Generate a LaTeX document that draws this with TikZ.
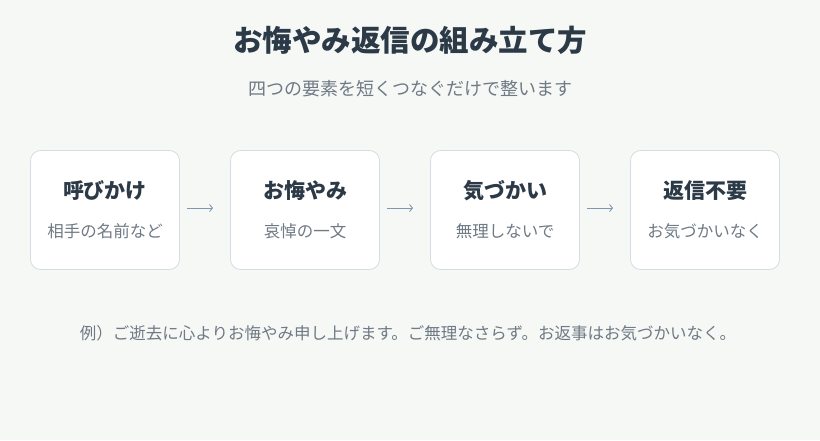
\documentclass[tikz,border=0pt]{standalone}
\usepackage{fontspec}
\setmainfont{Noto Sans CJK JP}
\usetikzlibrary{arrows.meta,positioning}
\definecolor{bgc}{HTML}{F6F8F6}
\definecolor{ink}{HTML}{2C3A47}
\definecolor{muted}{HTML}{6F7A85}
\definecolor{edge}{HTML}{D6DCE0}
\definecolor{arr}{HTML}{7F98AE}
\tikzset{
  card/.style={draw=edge,line width=0.8pt,fill=white,rounded corners=10pt,minimum width=149pt,minimum height=119pt},
  head/.style={text=ink,font=\fontsize{21}{25}\selectfont\bfseries},
  sub/.style={text=muted,font=\fontsize{16.5}{20}\selectfont},
  flow/.style={draw=arr,line width=0.9pt,-{Straight Barb[length=3pt,width=7pt]},shorten <=7pt,shorten >=17pt}
}
\begin{document}
\begin{tikzpicture}[x=1pt,y=-1pt]
  \fill[bgc] (0,0) rectangle (820,440);
  \useasboundingbox (0,0) rectangle (820,440);

  \node[text=ink,font=\fontsize{29.5}{34}\selectfont\bfseries] (title) at (410,40) {お悔やみ返信の組み立て方};
  \node[text=muted,font=\fontsize{18}{21}\selectfont] (subtitle) at (410,89) {四つの要素を短くつなぐだけで整います};

  \node[card] (c1) at (105,210) {};
  \node[card] (c2) at (305,210) {};
  \node[card] (c3) at (505,210) {};
  \node[card] (c4) at (705,210) {};

  \node[head] (h1) at ([yshift=19pt]c1.center) {呼びかけ};
  \node[sub]  (s1) at ([yshift=-21pt]c1.center) {相手の名前など};
  \node[head] (h2) at ([yshift=19pt]c2.center) {お悔やみ};
  \node[sub]  (s2) at ([yshift=-21pt]c2.center) {哀悼の一文};
  \node[head] (h3) at ([yshift=19pt]c3.center) {気づかい};
  \node[sub]  (s3) at ([yshift=-21pt]c3.center) {無理しないで};
  \node[head] (h4) at ([yshift=19pt]c4.center) {返信不要};
  \node[sub]  (s4) at ([yshift=-21pt]c4.center) {お気づかいなく};

  \draw[flow] ([yshift=2pt]c1.east) -- ([yshift=2pt]c2.west);
  \draw[flow] ([yshift=2pt]c2.east) -- ([yshift=2pt]c3.west);
  \draw[flow] ([yshift=2pt]c3.east) -- ([yshift=2pt]c4.west);

  \node[sub] (example) at (408,333) {例）ご逝去に心よりお悔やみ申し上げます。ご無理なさらず。お返事はお気づかいなく。};
\end{tikzpicture}
\end{document}
